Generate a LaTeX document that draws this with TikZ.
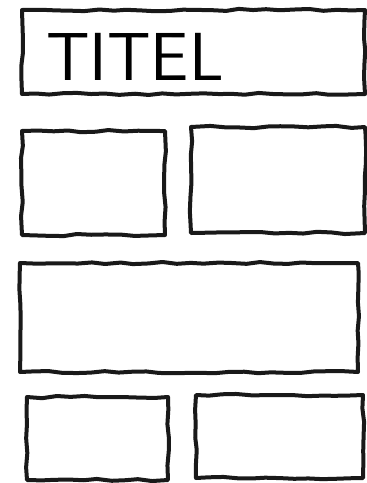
\documentclass[tikz,border=0pt]{standalone}
\usepackage{tikz}
\usetikzlibrary{decorations.pathmorphing}

\tikzset{
  sketchbox/.style={draw=black!90, line width=4pt, line join=round, line cap=round,
    rectangle, inner sep=0pt, outer sep=0pt,
    decorate, decoration={random steps, segment length=14pt, amplitude=1.2pt}},
}

\begin{document}
\begin{tikzpicture}[x=1pt,y=-1pt]
  \useasboundingbox (0,0) rectangle (367,483);
  % title box
  \node[sketchbox, minimum width=343pt, minimum height=84pt] (titlebox) at (193.5,52) {};
  \node[anchor=west, font=\sffamily\fontsize{68}{68}\selectfont, inner sep=0pt] (titel) at (46,57) {TITEL};
  % row 2
  \node[sketchbox, minimum width=143pt, minimum height=104pt] (boxA) at (93.5,183) {};
  \node[sketchbox, minimum width=174pt, minimum height=106pt] (boxB) at (278,180) {};
  % row 3
  \node[sketchbox, minimum width=338pt, minimum height=109pt] (boxC) at (189,317.5) {};
  % row 4
  \node[sketchbox, minimum width=141pt, minimum height=83pt] (boxD) at (97.5,438.5) {};
  \node[sketchbox, minimum width=167pt, minimum height=83pt] (boxE) at (279.5,436.5) {};
\end{tikzpicture}
\end{document}
